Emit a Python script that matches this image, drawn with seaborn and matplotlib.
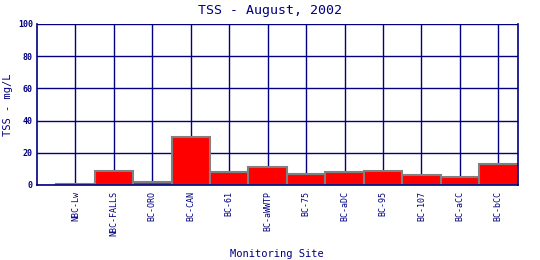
import matplotlib
matplotlib.use("Agg")
import matplotlib.pyplot as plt
import seaborn as sns
import pandas as pd

sites = ["NBC-Lw", "NBC-FALLS", "BC-ORO", "BC-CAN", "BC-61", "BC-aWWTP",
         "BC-75", "BC-aDC", "BC-95", "BC-107", "BC-aCC", "BC-bCC"]
tss = [0.5, 8.7, 1.9, 30.0, 8.1, 11.2, 6.8, 8.1, 8.7, 6.2, 5.0, 13.2]
yticks = [0, 20, 40, 60, 80, 100]

navy = "#000080"
sns.set_style("white")
plt.rcParams["font.family"] = ["DejaVu Sans Mono"]

df = pd.DataFrame({"site": sites, "tss": tss})
fig = plt.figure(figsize=(5.4, 2.6), dpi=100)
ax = fig.add_axes([0.0685, 0.2885, 0.890, 0.6192])

for i in range(len(sites)):
    ax.axvline(i, color=navy, lw=1.0, zorder=0)
for y in yticks:
    ax.axhline(y, color=navy, lw=1.0, zorder=0)

sns.barplot(data=df, x="site", y="tss", width=1.0, color="red",
            edgecolor="#808080", linewidth=1.5, saturation=1, ax=ax, zorder=2)

ax.set_xlim(-1.0, len(sites) - 0.5)
ax.set_ylim(0, 100)
ax.set_yticks(yticks)
ax.set_yticklabels([str(v) for v in yticks], fontsize=6, color=navy, fontweight="bold")
ax.set_xticks(range(len(sites)))
ax.set_xticklabels(sites, rotation=90, fontsize=6, color=navy)
ax.tick_params(axis="x", length=0, pad=4)
ax.tick_params(axis="y", length=0, pad=3)
for s in ax.spines.values():
    s.set_color(navy)
    s.set_linewidth(1.2)
ax.spines["top"].set_visible(False)

ax.set_xlabel("Monitoring Site", fontsize=7.5, color=navy, va="center")
ax.xaxis.set_label_coords(0.5, -0.43)
ax.set_ylabel("TSS - mg/L", fontsize=7.5, color=navy, va="center")
ax.yaxis.set_label_coords(-0.060, 0.5)
fig.suptitle("TSS - August, 2002", fontsize=9.5, color=navy, y=0.96, va="center")

fig.savefig("out.png", dpi=100, facecolor="white")
